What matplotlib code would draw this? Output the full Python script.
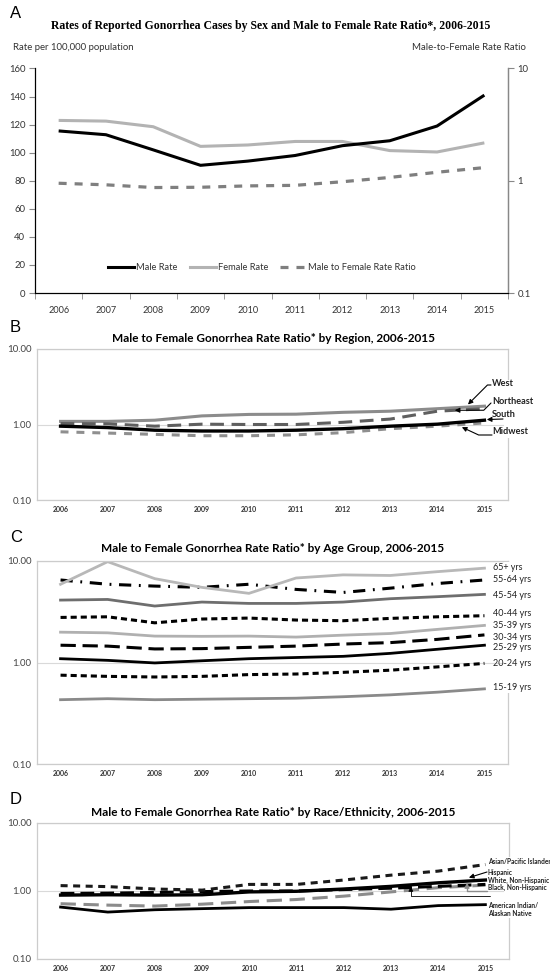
import numpy as np
import matplotlib
matplotlib.use("Agg")
import matplotlib.pyplot as plt
from matplotlib.lines import Line2D
from matplotlib.patches import Rectangle

plt.rcParams['font.family'] = ['Lato', 'DejaVu Sans']

W, H = 550, 973

years = ["2006", "2007", "2008", "2009", "2010", "2011", "2012", "2013", "2014", "2015"]

# Panel A: rates per 100,000 and male-to-female ratio
male_rate = [115.5, 112.8, 102.0, 91.0, 94.0, 98.0, 105.0, 108.5, 119.0, 141.0]
female_rate = [123.0, 122.5, 118.5, 104.5, 105.5, 108.0, 108.0, 101.5, 100.5, 107.0]
mf_ratio = [0.95, 0.92, 0.87, 0.875, 0.90, 0.91, 0.98, 1.07, 1.19, 1.31]

# Panel B: ratio by region
west = [1.10, 1.10, 1.14, 1.30, 1.36, 1.37, 1.45, 1.50, 1.62, 1.75]
northeast = [1.03, 1.02, 0.95, 1.01, 1.00, 1.00, 1.07, 1.18, 1.50, 1.62]
south = [0.95, 0.91, 0.84, 0.82, 0.82, 0.84, 0.88, 0.95, 1.01, 1.14]
midwest = [0.80, 0.77, 0.74, 0.71, 0.71, 0.73, 0.78, 0.88, 0.95, 1.05]

# Panel C: ratio by age group
age_65p = [5.9, 9.85, 6.7, 5.5, 4.8, 6.8, 7.3, 7.2, 7.85, 8.5]
age_55_64 = [6.5, 5.9, 5.66, 5.5, 5.9, 5.25, 4.9, 5.4, 6.0, 6.5]
age_45_54 = [4.12, 4.18, 3.6, 3.94, 3.82, 3.82, 3.94, 4.25, 4.45, 4.69]
age_40_44 = [2.78, 2.82, 2.46, 2.68, 2.74, 2.62, 2.58, 2.72, 2.82, 2.89]
age_35_39 = [1.99, 1.96, 1.82, 1.81, 1.82, 1.78, 1.86, 1.93, 2.12, 2.32]
age_30_34 = [1.48, 1.45, 1.36, 1.37, 1.41, 1.45, 1.52, 1.57, 1.69, 1.87]
age_25_29 = [1.09, 1.05, 0.99, 1.04, 1.09, 1.12, 1.15, 1.23, 1.35, 1.48]
age_20_24 = [0.75, 0.73, 0.72, 0.73, 0.76, 0.77, 0.80, 0.84, 0.905, 0.98]
age_15_19 = [0.43, 0.44, 0.43, 0.435, 0.44, 0.445, 0.46, 0.48, 0.51, 0.55]

# Panel D: ratio by race/ethnicity
asian_pi = [1.20, 1.16, 1.07, 1.03, 1.25, 1.25, 1.45, 1.71, 1.96, 2.45]
hispanic = [0.87, 0.88, 0.87, 0.88, 0.97, 0.99, 1.07, 1.17, 1.32, 1.45]
white_nh = [0.92, 0.93, 0.95, 0.98, 1.00, 1.00, 1.05, 1.10, 1.17, 1.25]
black_nh = [0.65, 0.62, 0.60, 0.64, 0.70, 0.75, 0.84, 0.97, 1.12, 1.22]
aian = [0.58, 0.49, 0.53, 0.55, 0.57, 0.57, 0.57, 0.54, 0.61, 0.63]

x = np.arange(len(years))


def fx(px):
    return px / W


def fy(py):
    return 1 - py / H


def axes_px(left, top, right, bottom):
    return [fx(left), fy(bottom), (right - left) / W, (bottom - top) / H]


fig = plt.figure(figsize=(W / 100, H / 100), dpi=100)

# ---------------- Panel A ----------------
axA = fig.add_axes(axes_px(35, 68.5, 508, 293))
axA.plot(x, female_rate, color='#b3b3b3', lw=2.2, solid_capstyle='butt', zorder=2)
axA.plot(x, male_rate, color='black', lw=2.2, solid_capstyle='butt', zorder=3)
axA.set_xlim(-0.5, 9.5)
axA.set_ylim(0, 160)
axA.set_yticks(np.arange(0, 161, 20))
axA.set_xticks(x)
axA.set_xticklabels(years)
axA.set_xticks(np.arange(-0.5, 10, 1), minor=True)
axA.tick_params(axis='x', which='major', length=0, pad=9, labelsize=6.6, labelcolor='#333333')
axA.tick_params(axis='x', which='minor', length=4, color='#888888', direction='out')
axA.tick_params(axis='y', length=4, color='#888888', labelsize=6.8, labelcolor='#333333', pad=3)
for s in ['left', 'bottom', 'right']:
    axA.spines[s].set_color('#888888')
    axA.spines[s].set_linewidth(0.9)
axA.spines['top'].set_visible(False)

axR = axA.twinx()
axR.plot(x, mf_ratio, color='#7f7f7f', lw=2.3, linestyle=(0, (2.5, 2.5)), zorder=3)
axR.set_yscale('log')
axR.set_ylim(0.1, 10)
axR.set_yticks([0.1, 1, 10])
axR.set_yticklabels(['0.1', '1', '10'])
axR.yaxis.set_minor_locator(matplotlib.ticker.NullLocator())
axR.tick_params(axis='y', length=4, color='#888888', labelsize=6.8, labelcolor='#333333', pad=3)
axR.spines['top'].set_visible(False)
axR.spines['right'].set_color('#888888')
axR.spines['right'].set_linewidth(0.9)

handles = [Line2D([], [], color='black', lw=2.2),
           Line2D([], [], color='#b3b3b3', lw=2.2),
           Line2D([], [], color='#7f7f7f', lw=2.3, linestyle=(0, (2.5, 2.5)))]
axR.legend(handles, ['Male Rate', 'Female Rate', 'Male to Female Rate Ratio'],
           loc='center', bbox_to_anchor=(fx(262), fy(268)), bbox_transform=fig.transFigure,
           ncol=3, frameon=False, fontsize=6.7, handlelength=2.8, handletextpad=0.2,
           columnspacing=1.3, labelcolor='#333333')

fig.text(fx(10), fy(14), 'A', fontsize=12, family='Liberation Sans', ha='left', va='center')
fig.text(fx(271), fy(26), 'Rates of Reported Gonorrhea Cases by Sex and Male to Female Rate Ratio*, 2006-2015',
         fontsize=8.5, family='Liberation Serif', fontweight='bold', ha='center', va='center')
fig.text(fx(13), fy(47), 'Rate per 100,000 population', fontsize=6.9, ha='left', va='center', color='#333333')
fig.text(fx(526), fy(47), 'Male-to-Female Rate Ratio', fontsize=6.9, ha='right', va='center', color='#333333')


# ---------------- shared styling for ratio panels ----------------
def ratio_axes(rect, xlabsize):
    ax = fig.add_axes(rect)
    ax.set_yscale('log')
    ax.set_ylim(0.1, 10)
    ax.set_xlim(-0.5, 9.5)
    ax.set_yticks([0.1, 1, 10])
    ax.set_yticklabels(['0.10', '1.00', '10.00'])
    ax.yaxis.set_minor_locator(matplotlib.ticker.NullLocator())
    ax.set_xticks(x)
    ax.set_xticklabels(years, fontweight='bold')
    ax.tick_params(axis='x', length=0, labelsize=xlabsize, labelcolor='#333333', pad=4)
    ax.tick_params(axis='y', length=0, labelsize=7, labelcolor='#444444', pad=4)
    ax.grid(axis='y', which='major', color='#d9d9d9', lw=0.8)
    ax.set_axisbelow(True)
    for s in ax.spines.values():
        s.set_color('#cccccc')
        s.set_linewidth(0.9)
    return ax


def cover_frame(top, bottom):
    fig.patches.append(Rectangle((fx(504), fy(bottom)), fx(10), (bottom - top) / H,
                                 transform=fig.transFigure, facecolor='white',
                                 edgecolor='none', zorder=2))


def pointer(ax, series, xi, factor, start_px, style='arc3', color='black', lw=0.8):
    yv = np.interp(xi, x, series) * factor
    ax.annotate('', xy=(xi, yv), xycoords='data',
                xytext=(start_px[0], H - start_px[1]), textcoords='figure pixels',
                arrowprops=dict(arrowstyle='-|>', color=color, lw=lw, mutation_scale=7,
                                shrinkA=0, shrinkB=0, connectionstyle=style),
                annotation_clip=False)


# ---------------- Panel B ----------------
axB = ratio_axes(axes_px(37, 349, 508, 500), 5)
axB.plot(x, west, color='#8c8c8c', lw=2.2)
axB.plot(x, northeast, color='#5f5f5f', lw=2.2, linestyle=(0, (4.5, 2.5)))
axB.plot(x, midwest, color='#8f8f8f', lw=2.2, linestyle=(0, (2.6, 2.6)))
axB.plot(x, south, color='black', lw=2.4)

fig.text(fx(10), fy(327), 'B', fontsize=12, family='Liberation Sans', ha='left', va='center')
fig.text(fx(273), fy(338), 'Male to Female Gonorrhea Rate Ratio* by Region, 2006-2015',
         fontsize=8.5, fontweight='bold', ha='center', va='center')
cover_frame(380, 438)
for label, ypx in [('West', 384), ('Northeast', 401), ('South', 414), ('Midwest', 432)]:
    fig.text(fx(492), fy(ypx), label, fontsize=6.6, fontweight='bold', ha='left', va='center',
             color='#222222', zorder=3)
pointer(axB, west, 8.65, 1.08, (491, 385), 'angle,angleA=0,angleB=45,rad=0')
pointer(axB, northeast, 8.37, 1.0, (491, 403), 'angle,angleA=45,angleB=0,rad=0')
pointer(axB, south, 9.05, 1.02, (503, 419))
pointer(axB, midwest, 8.52, 0.92, (492, 435), 'angle,angleA=0,angleB=155,rad=0')

# ---------------- Panel C ----------------
axC = ratio_axes(axes_px(37, 561, 508, 764), 5)
axC.plot(x, age_15_19, color='#8a8a8a', lw=2.0)
axC.plot(x, age_20_24, color='black', lw=2.2, linestyle=(0, (2.0, 1.3)))
axC.plot(x, age_25_29, color='black', lw=2.0)
axC.plot(x, age_30_34, color='black', lw=2.2, linestyle=(0, (5.0, 2.2)))
axC.plot(x, age_35_39, color='#b0b0b0', lw=2.0)
axC.plot(x, age_40_44, color='black', lw=2.2, linestyle=(0, (2.0, 1.3)))
axC.plot(x, age_45_54, color='#6e6e6e', lw=2.0)
axC.plot(x, age_55_64, color='black', lw=2.2, linestyle=(0, (4.0, 2.5, 0.6, 2.5)))
axC.plot(x, age_65p, color='#b8b8b8', lw=2.0)

fig.text(fx(10), fy(537), 'C', fontsize=12, family='Liberation Sans', ha='left', va='center')
fig.text(fx(273), fy(549), 'Male to Female Gonorrhea Rate Ratio* by Age Group, 2006-2015',
         fontsize=8.5, fontweight='bold', ha='center', va='center')
cover_frame(562, 693)
age_labels = ['65+ yrs', '55-64 yrs', '45-54 yrs', '40-44 yrs', '35-39 yrs',
              '30-34 yrs', '25-29 yrs', '20-24 yrs', '15-19 yrs']
for label, ypx in zip(age_labels, [567, 580, 595, 613, 625, 637, 647, 664, 688]):
    fig.text(fx(493), fy(ypx), label, fontsize=6.5, ha='left', va='center', color='#222222', zorder=3)

# ---------------- Panel D ----------------
axD = ratio_axes(axes_px(37, 823, 509, 959), 5)
axD.plot(x, aian, color='black', lw=2.0)
axD.plot(x, black_nh, color='#8c8c8c', lw=2.2, linestyle=(0, (5.0, 2.5)))
axD.plot(x, hispanic, color='black', lw=2.4)
axD.plot(x, white_nh, color='black', lw=2.2, linestyle=(0, (4.5, 2.0)))
axD.plot(x, asian_pi, color='#1a1a1a', lw=2.2, linestyle=(0, (2.3, 1.8)))

fig.text(fx(10), fy(800), 'D', fontsize=12, family='Liberation Sans', ha='left', va='center')
fig.text(fx(273), fy(812), 'Male to Female Gonorrhea Rate Ratio* by Race/Ethnicity, 2006-2015',
         fontsize=8.5, fontweight='bold', ha='center', va='center')
cover_frame(857, 918)
race_labels = [('Asian/Pacific Islander', 862), ('Hispanic', 873), ('White, Non-Hispanic', 880),
               ('Black, Non-Hispanic', 887), ('American Indian/', 905), ('Alaskan Native', 914)]
for label, ypx in race_labels:
    fig.text(fx(488), fy(ypx), label, fontsize=4.7, fontweight='bold', ha='left', va='center',
             color='#222222', zorder=3)
pointer(axD, hispanic, 8.65, 1.12, (487, 872))
pointer(axD, white_nh, 7.42, 1.03, (490, 896), 'angle,angleA=0,angleB=90,rad=0', lw=0.6)
pointer(axD, black_nh, 8.61, 1.12, (487, 891), 'angle,angleA=0,angleB=90,rad=0',
        color='#8c8c8c', lw=1.0)

fig.savefig('out.png', dpi=100)
